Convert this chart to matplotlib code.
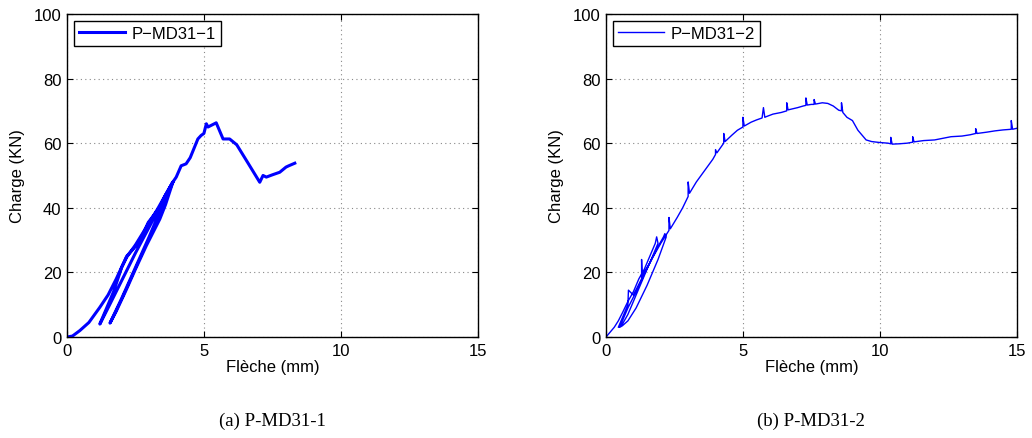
import matplotlib
matplotlib.use("Agg")
import matplotlib.pyplot as plt

plt.rcParams['font.family'] = ['Liberation Sans', 'DejaVu Sans']

# P-MD31-1 : loading / unloading cycles then peak and drop
x1 = [0, 0.2, 0.47, 0.8, 1.2, 1.5, 1.8, 2.18, 2.5, 2.73, 2.97, 3.2, 3.39, 3.6, 3.87,
      3.5, 3.0, 2.5, 2.0, 1.5, 1.2,
      1.4, 1.7, 2.0, 2.18, 2.5, 2.9, 3.3, 3.6, 3.87,
      3.5, 3.0, 2.5, 2.0, 1.57,
      1.8, 2.18, 2.5, 2.9, 3.39, 3.6, 3.87,
      3.99, 4.17, 4.35, 4.5, 4.78, 4.9, 5.0, 5.09, 5.15, 5.45, 5.7, 5.94, 6.2, 6.6, 7.04,
      7.16, 7.28, 7.5, 7.77, 8.0, 8.1, 8.32]
y1 = [0, 0.3, 2, 4.5, 9.2, 13, 18, 25, 28, 31, 35.5, 38, 40.2, 44, 48,
      42, 34, 26, 17.5, 9, 4,
      8, 14, 21.6, 24.7, 28.5, 34, 39.5, 44, 48,
      41, 31, 21.5, 12, 4.3,
      8, 14.9, 21, 28.3, 36.5, 41, 48,
      49.5, 53, 53.6, 55.5, 61.3, 62.4, 63, 66, 65, 66.3, 61.3, 61.3, 59.5, 54, 47.9,
      50, 49.5, 50.2, 51, 52.6, 53, 53.8]

# P-MD31-2 : continuous record with small spikes
x2 = [0, 0.15, 0.3, 0.45, 0.6, 0.8, 1.0, 1.2, 1.4, 1.6, 1.8, 1.85, 1.9,
      1.6, 1.3, 1.0, 0.8, 0.6, 0.45,
      0.7, 0.8, 0.82, 1.0, 1.3, 1.3, 1.32, 1.6, 1.9, 2.1, 2.15, 2.2,
      1.9, 1.5, 1.1, 0.8, 0.6, 0.5,
      0.8, 1.1, 1.4, 1.7, 2.0, 2.3, 2.3, 2.35, 2.6, 2.8, 3.0, 3.0, 3.05, 3.3, 3.6, 3.9, 4.0, 4.0, 4.05,
      4.3, 4.3, 4.35, 4.6, 4.8, 5.0, 5.0, 5.05, 5.3, 5.5, 5.7, 5.75, 5.8, 5.85, 6.1, 6.4, 6.6, 6.6, 6.65,
      7.0, 7.2, 7.3, 7.3, 7.35, 7.5, 7.6, 7.6, 7.65, 7.9, 8.1, 8.3, 8.5, 8.6, 8.6, 8.65, 8.8, 9.0, 9.2,
      9.5, 9.7, 10.0, 10.3, 10.4, 10.4, 10.45, 10.7, 11.0, 11.2, 11.2, 11.25, 11.6, 12.0, 12.3, 12.6,
      13.0, 13.3, 13.5, 13.5, 13.55, 13.9, 14.2, 14.5, 14.8, 14.8, 14.85, 15.0]
y2 = [0, 1.5, 3, 5, 7.5, 11, 14, 18, 21, 25, 29, 31, 29,
      23, 17, 11, 7, 4, 3,
      8, 10, 14.5, 13, 18, 24, 19, 23, 28, 31, 32, 31,
      24, 16, 9, 5, 3.5, 3,
      9, 14, 19.5, 24.5, 29, 33, 37, 33.5, 37, 40, 43.5, 48, 44.5, 48, 51.5, 55, 56.5, 58, 57,
      60, 63, 60.5, 62.5, 64, 65, 68, 65.3, 66.5, 67.2, 67.8, 71, 68, 68.2, 69, 69.5, 70, 72.5, 70.3,
      71, 71.5, 71.7, 74, 71.8, 72, 72, 73.5, 72.1, 72.5, 72.3, 71.5, 70.2, 70, 72.5, 69.5, 68, 67, 64,
      61, 60.5, 60.2, 60, 59.8, 61.8, 59.7, 59.8, 60, 60.3, 62, 60.4, 60.8, 61, 61.5, 62,
      62.2, 62.6, 63, 64.5, 63, 63.4, 63.8, 64.1, 64.3, 67, 64.3, 64.6]

labels = ["P\u2212MD31\u22121", "P\u2212MD31\u22122"]
captions = ["(a) P-MD31-1", "(b) P-MD31-2"]
widths = [2.2, 1.0]

fig = plt.figure(figsize=(10.32, 4.39), dpi=100)
ax_a = fig.add_axes([0.0649, 0.230, 0.398, 0.736])
ax_b = fig.add_axes([0.5872, 0.230, 0.398, 0.736])

for ax, xs, ys, lab, cap, lw in zip([ax_a, ax_b], [x1, x2], [y1, y2], labels, captions, widths):
    ax.plot(xs, ys, color=(0, 0, 1), lw=lw, label=lab)
    ax.set_xlim(0, 15)
    ax.set_ylim(0, 100)
    ax.set_xticks([0, 5, 10, 15])
    ax.set_yticks([0, 20, 40, 60, 80, 100])
    ax.grid(True, linestyle=(0, (1, 3)), color='#888888', lw=0.8)
    ax.tick_params(direction='in', labelsize=12, length=4, top=True, right=True, pad=4)
    for s in ax.spines.values():
        s.set_linewidth(1.0)
    ax.set_xlabel("Flèche (mm)", fontsize=12, labelpad=1)
    ax.set_ylabel("Charge (KN)", fontsize=12, labelpad=6)
    leg = ax.legend(loc='upper left', fontsize=12, fancybox=False, framealpha=1,
                    edgecolor='black', handlelength=2.8, borderaxespad=0.4,
                    borderpad=0.3, handletextpad=0.4)
    leg.get_frame().set_linewidth(1.0)
    ax.text(0.5, -0.23, cap, transform=ax.transAxes, ha='center', va='top',
            fontsize=13.5, family=['Liberation Serif', 'DejaVu Serif'])

plt.savefig("out.png", dpi=100)
